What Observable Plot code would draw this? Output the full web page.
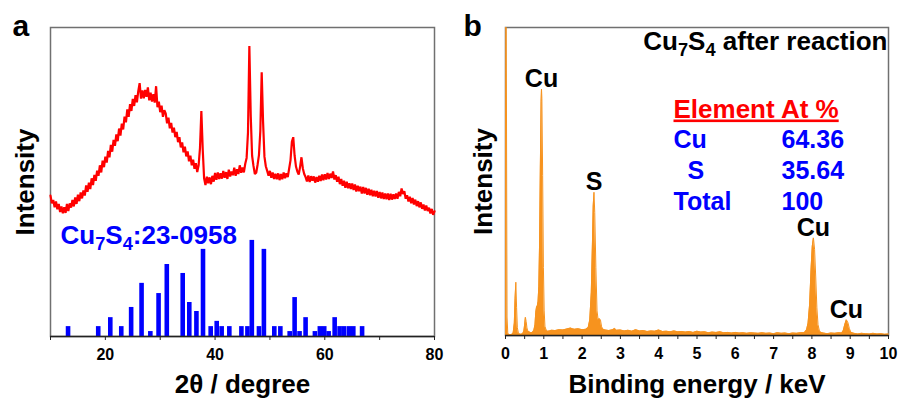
<!DOCTYPE html>
<html><head><meta charset="utf-8">
<script src="https://cdn.jsdelivr.net/npm/d3@7"></script>
<script src="https://cdn.jsdelivr.net/npm/@observablehq/plot@0.6"></script>
<style>
body{margin:0;background:#fff;}
#wrap{position:relative;width:901px;height:403px;overflow:hidden;background:#fff;}
#wrap svg{position:absolute;top:0;}
</style></head><body><div id="wrap"></div>
<script>
const FONT = "Liberation Sans, Arial, Helvetica, sans-serif";
const RED = "#ff0000", BLUE = "#0000ff", ORANGE = "#f7931e";

// ---------- Panel a: XRD ----------
const xrdStart = 10, xrdStep = 0.25; // 2θ grid of the measured pattern
const xrdIntensity = [
45.6,43.1,44.2,41.8, 43.7,41.2,42.9,40.3, 42.1,39.9,41.8,40.0, 42.9,40.6,43.1,41.7,
44.2,42.1,45.0,42.9, 45.9,43.8,46.6,44.7, 47.3,45.6,48.9,46.8, 49.8,47.7,51.2,49.0,
52.3,50.4,53.7,52.0, 55.4,53.1,56.9,54.8, 58.2,56.3,60.1,58.0, 62.0,59.8,63.6,61.7,
65.4,63.2,67.3,65.0, 68.9,67.0,71.2,69.3, 73.5,71.1,75.2,73.0, 76.9,74.6,78.1,75.8,
79.4,82.0,77.0,79.6, 77.1,79.8,77.6,80.6, 76.4,78.9,76.0,78.4, 75.7,81.0,74.2,76.0,
72.6,74.7,71.1,73.2, 72.2,69.0,70.8,67.4, 69.1,66.0,67.6,64.5, 66.2,62.9,64.5,61.2,
62.8,59.6,61.4,58.3, 59.9,56.7,58.5,55.4, 57.2,54.3,56.1,53.2, 55.4,61.0,73.0,60.5,
51.2,49.0,51.7,49.6, 51.5,49.3,52.0,50.1, 52.9,50.7,53.1,51.0, 52.8,51.1,53.6,51.4,
53.2,51.0,54.0,51.8, 53.4,52.2,54.6,52.0, 54.1,52.6,55.4,53.0, 54.7,53.1,55.9,57.8,
66.0,94.0,71.5,58.5, 55.2,52.6,53.0,55.6, 58.7,66.5,85.5,69.5, 58.2,55.1,53.6,52.0,
53.6,51.4,53.1,51.0, 52.7,50.9,52.8,50.6, 52.6,50.9,53.1,51.2, 52.8,51.6,54.3,57.0,
63.0,64.5,58.5,55.0, 53.4,52.4,54.9,58.0, 54.4,52.6,51.6,50.2, 52.1,50.0,51.9,50.4,
51.8,49.8,51.6,50.1, 52.0,50.3,52.4,50.6, 52.5,50.8,52.9,51.0, 52.7,51.3,53.4,50.8,
52.2,50.1,51.7,49.3, 51.0,48.8,50.4,48.1, 50.1,48.0,49.6,47.7, 49.5,47.4,49.2,46.9,
48.8,47.0,48.5,46.3, 48.4,46.3,48.1,45.9, 47.8,45.7,47.5,45.4, 47.2,45.3,47.1,44.9,
46.8,44.7,46.6,44.5, 46.3,44.4,46.3,44.2, 46.2,44.3,46.0,44.5, 46.3,44.6,46.8,45.4,
47.9,46.1,47.0,44.6, 45.7,43.7,45.2,43.1, 44.8,42.7,44.3,42.2, 43.8,41.8,43.4,41.3,
42.7,40.8,42.4,40.6, 41.7,39.8,41.3,39.4, 40.5
];
// Reference pattern Cu7S4 (JCPDS 23-0958)
const refTwoTheta = [13.2,18.7,20.9,22.9,24.7,26.6,28.2,29.7,31.2,34.1,35.3,36.6,37.8,39.2,40.3,41.2,42.6,
  44.8,45.9,46.7,48.0,48.9,50.8,51.9,53.6,54.5,55.4,56.5,58.2,59.1,59.9,60.7,61.8,62.7,63.5,64.4,65.2,66.8];
const refIntensity = [3.2,3.2,6.1,3.2,9.4,17.2,1.6,13.9,23.3,20.4,11.0,8.1,28.2,3.2,4.9,3.2,3.2,
  3.2,3.2,31.1,3.2,28.2,3.2,3.2,1.6,12.6,1.6,6.1,1.6,3.2,3.2,1.6,6.1,3.2,3.2,3.2,3.2,3.2];
const refLabel = "Cu₇S₄:23-0958";
const xrdTicks = [10,20,30,40,50,60,70,80];
const xrdTickLabels = ["","20","","40","","60","","80"];

// ---------- Panel b: EDS ----------
const edsEnergy = [0.00,0.02,0.04,0.06,0.10,0.16,0.20,0.23,0.25,0.27,0.29,0.31,0.34,0.40,0.45,0.48,0.50,0.52,0.54,0.56,0.58,
 0.62,0.66,0.70,0.74,0.77,0.79,0.81,0.83,0.85,0.87,0.89,0.91,0.93,0.94,0.95,0.97,0.99,1.01,1.03,1.06,1.10,1.15,1.20,1.30,
 1.40,1.50,1.60,1.70,1.75,1.80,1.90,2.00,2.10,2.16,2.20,2.24,2.27,2.29,2.31,2.33,2.36,2.39,2.42,2.45,2.48,2.51,2.55,2.60,
 2.70,2.80,2.85,2.90,3.00,3.10,3.20,3.30,3.40,3.50,3.60,3.70,3.80,3.90,4.00,4.10,4.20,4.30,4.40,4.50,4.60,4.70,4.80,4.90,
 5.00,5.10,5.20,5.30,5.40,5.50,5.60,5.70,5.80,5.90,6.00,6.10,6.20,6.30,6.40,6.50,6.60,6.70,6.80,6.90,7.00,7.10,7.20,7.30,
 7.40,7.50,7.60,7.70,7.80,7.86,7.90,7.94,7.98,8.01,8.04,8.07,8.10,8.13,8.16,8.20,8.26,8.30,8.40,8.50,8.60,8.70,8.78,8.82,
 8.86,8.90,8.94,8.98,9.02,9.10,9.20,9.30,9.40,9.50,9.60,9.70,9.80,9.90,10.00];
const edsCounts = [100,100,6,0.6,0.3,0.3,0.8,4,12,17.3,9,2.5,0.6,0.4,0.6,1.5,3.5,5.9,4.5,2.5,1.5,
 1.2,0.9,1.0,1.6,3.5,7.5,9.2,9.6,11,16,30,55,76,80,77,52,22,8,3,1.8,1.4,1.5,1.7,1.6,
 1.9,1.8,2.1,2.4,2.2,2.0,2.2,1.9,2.0,2.6,5,14,30,42,46.5,40,22,8,5,5.5,5,2.8,2.0,1.8,
 1.6,1.9,2.3,1.7,1.8,1.5,1.7,1.4,1.9,1.5,1.6,1.3,1.5,1.4,1.8,1.3,1.4,1.2,1.5,1.2,1.3,1.1,1.3,1.0,
 1.4,1.1,1.2,0.9,1.1,1.0,1.2,0.9,1.0,0.8,1.0,0.8,0.9,0.7,0.9,0.8,0.7,0.9,0.7,0.8,0.6,0.9,0.7,0.8,
 0.6,0.8,0.7,0.9,0.9,1.8,4,10,22,29,31.7,28,19,9,3.5,1.3,0.9,0.8,0.6,0.8,0.7,0.9,0.8,1.6,
 3.6,5.1,4.2,2.2,1.0,0.7,0.5,0.7,0.6,0.5,0.7,0.5,0.6,0.4,0.5];
const edsPeakNames = ["Cu","S","Cu","Cu"];
const edsPeakEnergy = [0.94,2.31,8.04,8.90];
const edsPeakHeight = [80,46.5,31.7,5.1];
const edsTicks = [0,0.5,1,1.5,2,2.5,3,3.5,4,4.5,5,5.5,6,6.5,7,7.5,8,8.5,9,9.5,10];
const edsTickLabels = ["0","","1","","2","","3","","4","","5","","6","","7","","8","","9","","10"];
const edsTitle = "Cu₇S₄ after reaction";
const compHeader = "Element At %";
const compElements = ["Cu","\u00a0\u00a0S","Total"];
const compAtPercent = ["64.36","35.64","100"];

// ---------- build tables ----------
const xrdData = xrdIntensity.map((v, i) => ({t: xrdStart + i * xrdStep, v}));
const refData = refTwoTheta.map((t, i) => ({t, v: refIntensity[i]}));
const edsData = edsEnergy.map((e, i) => ({e, c: edsCounts[i]}));
const peakData = edsPeakNames.map((n, i) => ({n, e: edsPeakEnergy[i], h: edsPeakHeight[i]}));

const baseStyle = {fontFamily: FONT, fontWeight: "bold", fontSize: "16px", color: "#000", background: "transparent", overflow: "visible"};
const txt = (s, o) => Plot.text([s], {text: d => d, fontFamily: FONT, fontWeight: "bold", lineAnchor: "bottom", fill: "#000", ...o});

// composition table: one text mark per cell, rows stacked below the header
const compMarks = compElements.flatMap((el, i) => [
  txt(el, {frameAnchor: "top-left", dx: 168, dy: 120 + i * 31, fontSize: 25, fill: BLUE, textAnchor: "start"}),
  txt(compAtPercent[i], {frameAnchor: "top-left", dx: 276, dy: 120 + i * 31, fontSize: 25, fill: BLUE, textAnchor: "start"})
]);

const plotA = Plot.plot({
  width: 450, height: 403, marginLeft: 50, marginRight: 16, marginTop: 27, marginBottom: 67,
  style: baseStyle,
  x: {domain: [10, 80]},
  y: {domain: [0, 100], axis: null},
  marks: [
    Plot.frame({stroke: "#707070", strokeWidth: 1.5}),
    Plot.ruleX(refData, {x: "t", y1: 0, y2: "v", stroke: BLUE, strokeWidth: 4.6}),
    Plot.line(xrdData, {x: "t", y: "v", stroke: RED, strokeWidth: 2.2, strokeLinejoin: "miter"}),
    Plot.ruleY([0], {stroke: "#222", strokeWidth: 1.5}),
    Plot.axisX({ticks: xrdTicks, tickFormat: d => xrdTickLabels[xrdTicks.indexOf(d)], tickSize: 4, tickPadding: 8,
      fontSize: 16, fontWeight: "bold", fontFamily: FONT, stroke: "#222", label: null}),
    txt(refLabel, {frameAnchor: "top-left", dx: 10, dy: 216, fontSize: 26, fill: BLUE, textAnchor: "start"}),
    txt("a", {frameAnchor: "top-left", dx: -38, dy: 8, fontSize: 30, textAnchor: "start"}),
    txt("Intensity", {frameAnchor: "left", dx: -17, rotate: -90, fontSize: 26, textAnchor: "middle"}),
    txt("2θ / degree", {frameAnchor: "bottom", dy: 56, fontSize: 26, textAnchor: "middle"})
  ]
});

const plotB = Plot.plot({
  width: 451, height: 403, marginLeft: 55, marginRight: 13, marginTop: 27, marginBottom: 68,
  style: baseStyle,
  x: {domain: [0, 10]},
  y: {domain: [0, 100], axis: null},
  marks: [
    Plot.frame({stroke: "#707070", strokeWidth: 1.5}),
    Plot.areaY(edsData, {x: "e", y: "c", fill: ORANGE}),
    Plot.lineY(edsData, {x: "e", y: "c", stroke: ORANGE, strokeWidth: 1}),
    Plot.ruleY([0], {stroke: "#222", strokeWidth: 1.5}),
    Plot.axisX({ticks: edsTicks, tickFormat: d => edsTickLabels[edsTicks.indexOf(d)], tickSize: 4, tickPadding: 8,
      fontSize: 16, fontWeight: "bold", fontFamily: FONT, stroke: "#222", label: null}),
    Plot.text(peakData, {x: "e", y: "h", text: "n", dy: -2, lineAnchor: "bottom", fontSize: 25, fontWeight: "bold", fontFamily: FONT, fill: "#000"}),
    txt(edsTitle, {frameAnchor: "top-right", dx: -1, dy: 22, fontSize: 26, textAnchor: "end"}),
    txt(compHeader, {frameAnchor: "top-left", dx: 168, dy: 90, fontSize: 26, fill: RED, textAnchor: "start"}),
    ...compMarks,
    txt("b", {frameAnchor: "top-left", dx: -42, dy: 8, fontSize: 30, textAnchor: "start"}),
    txt("Intensity", {frameAnchor: "left", dx: -14, rotate: -90, fontSize: 26, textAnchor: "middle"}),
    txt("Binding energy / keV", {frameAnchor: "bottom", dy: 57, fontSize: 26, textAnchor: "middle"})
  ]
});

const wrap = document.getElementById("wrap");
plotA.style.left = "0px";
plotB.style.left = "450px";
wrap.appendChild(plotA);
wrap.appendChild(plotB);

// tick labels: enforce size and weight
for (const p of [plotA, plotB]) {
  d3.select(p).selectAll('g[aria-label="x-axis tick label"]')
    .attr("font-size", 16).attr("font-weight", "bold").attr("font-family", FONT).attr("fill", "#000")
    .selectAll("text").style("font-size", "16px").style("font-weight", "bold");
}

// underline the composition header
d3.select(plotB).selectAll("text").each(function() {
  if (this.textContent === compHeader) this.style.textDecoration = "underline";
});

// chemical subscripts
function applySubscripts(root) {
  root.querySelectorAll("text").forEach(t => {
    const s = t.textContent;
    if (!/[\u2080-\u2089]/.test(s)) return;
    const runs = s.match(/[\u2080-\u2089]+|[^\u2080-\u2089]+/g);
    t.textContent = "";
    let prevSub = false;
    for (const r of runs) {
      const sub = /[\u2080-\u2089]/.test(r[0]);
      const ts = document.createElementNS("http://www.w3.org/2000/svg", "tspan");
      if (sub) {
        ts.textContent = r.replace(/[\u2080-\u2089]/g, c => String.fromCharCode(c.charCodeAt(0) - 0x2080 + 48));
        ts.style.fontSize = "70%";
        ts.setAttribute("dy", "0.35em");
      } else {
        ts.textContent = r;
        if (prevSub) ts.setAttribute("dy", "-0.245em");
      }
      prevSub = sub;
      t.appendChild(ts);
    }
  });
}
applySubscripts(plotA);
applySubscripts(plotB);
</script></body></html>
